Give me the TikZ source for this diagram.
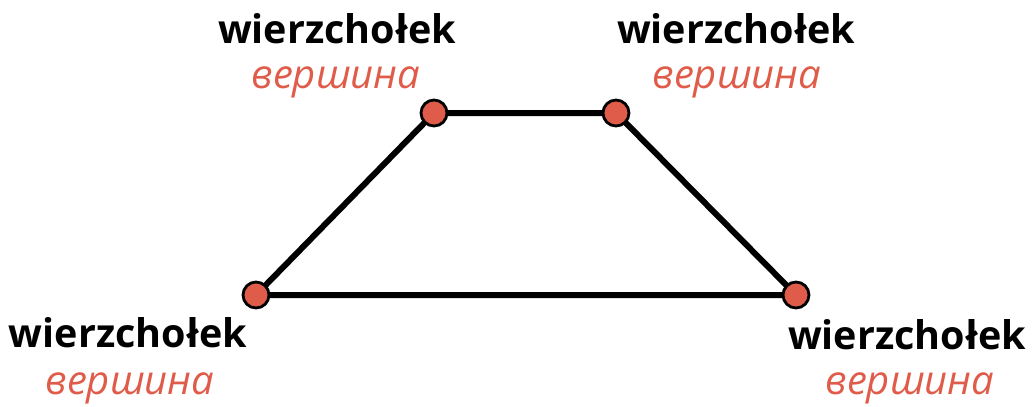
\documentclass[tikz,border=0pt]{standalone}
\usepackage{fontspec}
\setmainfont{Open Sans}
\definecolor{accent}{HTML}{E05C4A}
\begin{document}
\begin{tikzpicture}[x=1pt,y=-1pt,
  vtx/.style={circle,draw=black,line width=2.8pt,fill=accent,minimum size=26pt,inner sep=0pt},
  edge/.style={line width=6pt},
  en/.style={font=\fontsize{39.5}{44}\selectfont\bfseries,text=black,inner sep=0pt,anchor=base},
  ru/.style={font=\fontsize{40}{44}\selectfont\itshape,text=accent,inner sep=0pt,anchor=base}]
\useasboundingbox (0,0) rectangle (1034,407);
\coordinate (A) at (434,113);
\coordinate (B) at (616,113);
\coordinate (C) at (796,295);
\coordinate (D) at (256,295);
\draw[edge] (A) -- (B) -- (C) -- (D) -- cycle;
\node[vtx] (va) at (A) {};
\node[vtx] (vb) at (B) {};
\node[vtx] (vc) at (C) {};
\node[vtx] (vd) at (D) {};
\node[en] (ta) at (337,43) {wierzchołek};
\node[ru] (ra) at (336,88) {вершина};
\node[en] (tb) at (736,43) {wierzchołek};
\node[ru] (rb) at (737,88) {вершина};
\node[en] (td) at (128,347) {wierzchołek};
\node[ru] (rd) at (130,394) {вершина};
\node[en] (tc) at (907,349) {wierzchołek};
\node[ru] (rc) at (910,394) {вершина};
\end{tikzpicture}
\end{document}
